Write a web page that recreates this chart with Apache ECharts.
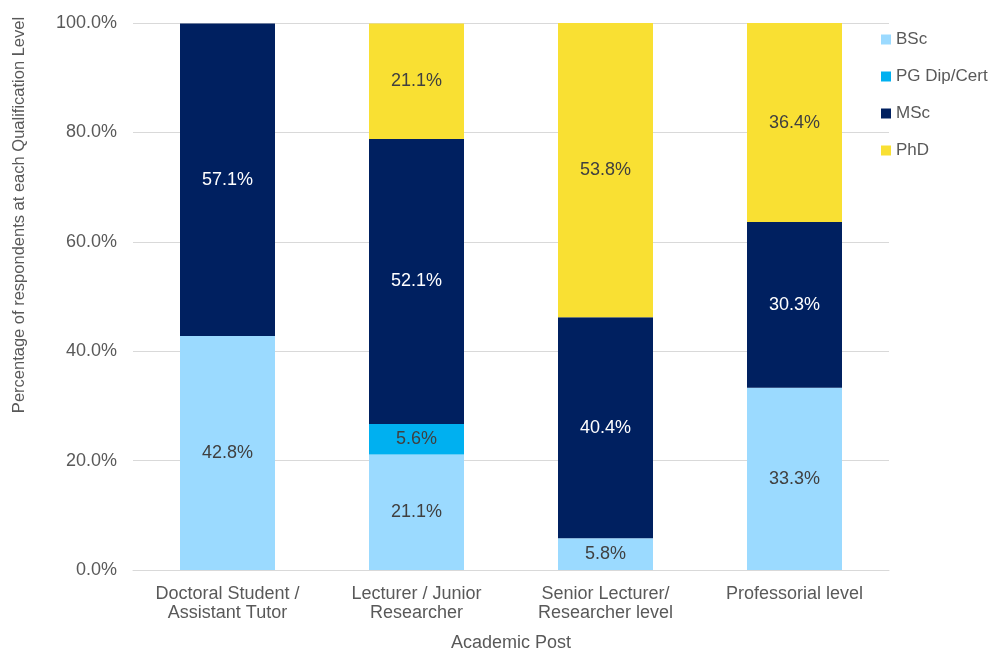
<!DOCTYPE html>
<html>
<head>
<meta charset="utf-8">
<script src="https://cdn.jsdelivr.net/npm/echarts@6/dist/echarts.min.js"></script>
<style>html,body{margin:0;padding:0;background:#fff}#c{width:995px;height:651px}</style>
</head>
<body>
<div id="c"></div>
<script>
var categories = ['Doctoral Student /\nAssistant Tutor', 'Lecturer / Junior\nResearcher', 'Senior Lecturer/\nResearcher level', 'Professorial level'];
var seriesNames = ['BSc', 'PG Dip/Cert', 'MSc', 'PhD'];
var bsc = [42.8, 21.1, 5.8, 33.3];
var pgDip = [null, 5.6, null, null];
var msc = [57.1, 52.1, 40.4, 30.3];
var phd = [null, 21.1, 53.8, 36.4];
var yTicks = [0, 20, 40, 60, 80, 100];
var colors = ['#9bdaff', '#00b0f0', '#002060', '#f9e033'];
var labelColors = ['#404040', '#404040', '#ffffff', '#404040'];
var values = [bsc, pgDip, msc, phd];

var font = 'Liberation Sans, Arial, sans-serif';
var chart = echarts.init(document.getElementById('c'));
chart.setOption({
  animation: false,
  grid: { left: 133, right: 106, top: 23, bottom: 81, outerBoundsMode: 'none', containLabel: false },
  legend: {
    orient: 'vertical', left: 881, top: 31, itemGap: 20, padding: 0,
    itemWidth: 10, itemHeight: 10, icon: 'rect',
    textStyle: { color: '#595959', fontSize: 17, fontFamily: font, padding: [0, 0, 0, 0] },
    data: seriesNames
  },
  xAxis: {
    type: 'category', data: categories,
    name: 'Academic Post', nameLocation: 'middle', nameGap: 64,
    nameTextStyle: { color: '#595959', fontSize: 18, fontFamily: font },
    axisLine: { lineStyle: { color: '#d9d9d9', width: 1 } },
    axisTick: { show: false },
    axisLabel: { color: '#595959', fontSize: 18, fontFamily: font, margin: 15, lineHeight: 19 }
  },
  yAxis: {
    type: 'value', min: 0, max: 100, interval: 20,
    axisLine: { show: false }, axisTick: { show: false },
    splitLine: { lineStyle: { color: '#d9d9d9', width: 1 } },
    axisLabel: { color: '#595959', fontSize: 18, fontFamily: font, margin: 16,
      formatter: function (v) { return yTicks.indexOf(v) >= 0 ? v.toFixed(1) + '%' : ''; } }
  },
  graphic: [{
    type: 'text', x: 19, y: 215, rotation: Math.PI / 2,
    style: { text: 'Percentage of respondents at each Qualification Level', fill: '#595959',
      font: '16.5px ' + font, textAlign: 'center', textVerticalAlign: 'middle' }
  }],
  series: seriesNames.map(function (n, i) {
    return {
      name: n, type: 'bar', stack: 'total', barWidth: 95,
      data: values[i],
      itemStyle: { color: colors[i] },
      label: { show: true, position: 'inside', color: labelColors[i], fontSize: 18, fontFamily: font,
        formatter: function (p) { return p.value == null ? '' : p.value.toFixed(1) + '%'; } }
    };
  })
});
</script>
</body>
</html>
